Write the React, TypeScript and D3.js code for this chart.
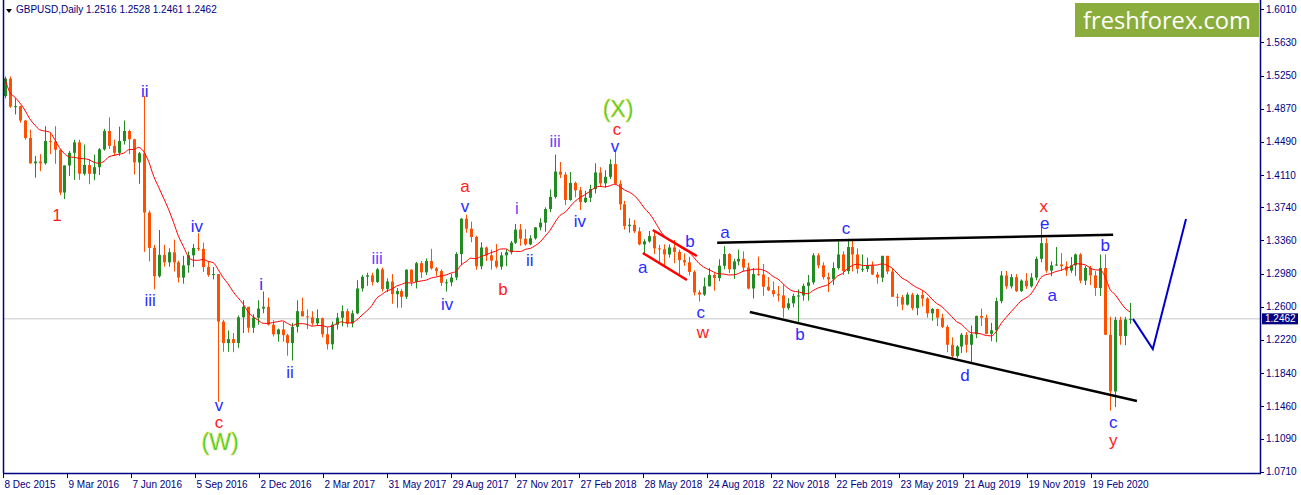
import React from "react";
import * as d3 from "d3";

// ---- data (weekly OHLC, Dec 2015 .. Apr 2020) ----
const firstOpen = 1.5015;
const closes = [
  1.5215,1.4895,1.4900,1.4735,1.4535,1.4245,1.4265,1.4245,1.4500,1.4495,
  1.4400,1.3910,1.4220,1.4365,1.4485,1.4125,1.4225,1.4125,1.4200,1.4405,
  1.4615,1.4445,1.4365,1.4500,1.4615,1.4520,1.4255,1.4360,1.3680,1.3275,
  1.2950,1.3195,1.3110,1.3225,1.3110,1.2935,1.3075,1.3190,1.3275,1.3265,
  1.3055,1.2965,1.2975,1.2430,1.2185,1.2230,1.2185,1.2480,1.2600,1.2360,
  1.2475,1.2580,1.2600,1.2395,1.2285,1.2340,1.2275,1.2185,1.2370,1.2550,
  1.2490,1.2480,1.2410,1.2470,1.2285,1.2170,1.2395,1.2475,1.2550,1.2410,
  1.2525,1.2810,1.2945,1.2960,1.2885,1.3030,1.2805,1.2890,1.2745,1.2780,
  1.2715,1.3025,1.2885,1.3100,1.2995,1.3125,1.3040,1.3010,1.2875,1.2880,
  1.2935,1.3205,1.3610,1.3495,1.3400,1.3065,1.3280,1.3190,1.3130,1.3060,
  1.3190,1.3225,1.3335,1.3485,1.3380,1.3315,1.3385,1.3510,1.3565,1.3720,
  1.3860,1.4150,1.4115,1.3825,1.4020,1.3935,1.3800,1.3850,1.3950,1.4140,
  1.4015,1.4090,1.4235,1.4010,1.3775,1.3525,1.3540,1.3465,1.3315,1.3350,
  1.3410,1.3270,1.3260,1.3200,1.3280,1.3230,1.3135,1.3110,1.3000,1.2765,
  1.2740,1.2835,1.2965,1.2930,1.3070,1.3205,1.3030,1.3120,1.3150,1.3050,
  1.2810,1.2975,1.2970,1.2830,1.2790,1.2745,1.2730,1.2585,1.2640,1.2725,
  1.2730,1.2840,1.2880,1.3190,1.3075,1.2940,1.2915,1.3045,1.3200,1.3010,
  1.3285,1.3200,1.3035,1.3035,1.3075,1.2970,1.2935,1.3185,1.3005,1.2715,
  1.2710,1.2625,1.2740,1.2585,1.2735,1.2695,1.2525,1.2575,1.2475,1.2370,
  1.2165,1.2035,1.2145,1.2280,1.2165,1.2285,1.2495,1.2475,1.2290,1.2330,
  1.2665,1.2960,1.2835,1.2940,1.2780,1.2900,1.2835,1.2935,1.3150,1.3330,
  1.3015,1.3075,1.3085,1.3065,1.3015,1.3075,1.3200,1.2900,1.3045,1.2960,
  1.2815,1.3045,1.2280,1.1630,1.2450,1.2265,1.2455,1.2462,
];
const highs = [
  1.5240,1.5240,1.4990,1.4905,1.4740,1.4630,1.4330,1.4350,1.4670,1.4595,
  1.4670,1.4400,1.4220,1.4385,1.4515,1.4515,1.4460,1.4290,1.4345,1.4420,
  1.4640,1.4770,1.4515,1.4665,1.4735,1.4630,1.4525,1.4375,1.5018,1.3705,
  1.3310,1.3480,1.3310,1.3270,1.3370,1.3130,1.3185,1.3235,1.3320,1.3445,
  1.3335,1.3120,1.3055,1.2975,1.2450,1.2330,1.2300,1.2500,1.2675,1.2600,
  1.2515,1.2675,1.2775,1.2705,1.2445,1.2350,1.2430,1.2290,1.2415,1.2675,
  1.2705,1.2570,1.2550,1.2570,1.2475,1.2365,1.2430,1.2530,1.2615,1.2580,
  1.2560,1.2905,1.2965,1.2990,1.2990,1.3045,1.3050,1.2925,1.2975,1.2815,
  1.2805,1.3030,1.3030,1.3115,1.3125,1.3155,1.3265,1.3055,1.3030,1.2915,
  1.2980,1.3225,1.3615,1.3655,1.3575,1.3415,1.3340,1.3290,1.3255,1.3320,
  1.3225,1.3260,1.3355,1.3550,1.3550,1.3490,1.3420,1.3515,1.3615,1.3740,
  1.3945,1.4345,1.4260,1.4145,1.4145,1.4035,1.3975,1.3930,1.4000,1.4245,
  1.4200,1.4165,1.4290,1.4377,1.4050,1.3815,1.3615,1.3595,1.3510,1.3375,
  1.3470,1.3475,1.3310,1.3315,1.3315,1.3365,1.3255,1.3210,1.3175,1.3020,
  1.2790,1.2935,1.3045,1.2985,1.3145,1.3295,1.3215,1.3150,1.3255,1.3235,
  1.3105,1.3045,1.3175,1.3090,1.2940,1.2890,1.2840,1.2855,1.2700,1.2750,
  1.2800,1.2865,1.2965,1.3215,1.3215,1.3110,1.2990,1.3110,1.3350,1.3235,
  1.3380,1.3380,1.3270,1.3200,1.3165,1.3120,1.3000,1.3175,1.3175,1.3040,
  1.2750,1.2735,1.2765,1.2760,1.2750,1.2785,1.2710,1.2585,1.2580,1.2520,
  1.2390,1.2250,1.2160,1.2300,1.2310,1.2385,1.2500,1.2580,1.2510,1.2415,
  1.2705,1.3010,1.3010,1.2975,1.2975,1.2915,1.2985,1.2985,1.3175,1.3515,
  1.3385,1.3120,1.3285,1.3215,1.3120,1.3170,1.3210,1.3215,1.3070,1.3070,
  1.3010,1.3200,1.3200,1.2485,1.2485,1.2485,1.2485,1.2645,
];
const lows = [
  1.4990,1.4880,1.4805,1.4710,1.4515,1.4240,1.4080,1.4155,1.4230,1.4350,
  1.4240,1.3880,1.3835,1.4100,1.4055,1.4055,1.4105,1.4005,1.4050,1.4110,
  1.4390,1.4410,1.4330,1.4330,1.4460,1.4350,1.4115,1.4010,1.3230,1.3120,
  1.2800,1.2935,1.3060,1.3060,1.3005,1.2880,1.2865,1.2990,1.3055,1.3240,
  1.3000,1.2945,1.2915,1.1510,1.2085,1.2085,1.2080,1.2130,1.2300,1.2305,
  1.2300,1.2395,1.2525,1.2385,1.2260,1.2200,1.2200,1.2040,1.1985,1.2305,
  1.2490,1.2345,1.2385,1.2385,1.2250,1.2110,1.2110,1.2340,1.2375,1.2365,
  1.2365,1.2515,1.2775,1.2840,1.2845,1.2875,1.2775,1.2770,1.2635,1.2590,
  1.2590,1.2690,1.2840,1.2810,1.2930,1.2965,1.3025,1.2955,1.2840,1.2775,
  1.2835,1.2905,1.3080,1.3450,1.3340,1.3025,1.3030,1.3125,1.3025,1.3040,
  1.3025,1.3065,1.3200,1.3320,1.3300,1.3300,1.3305,1.3370,1.3475,1.3460,
  1.3685,1.3840,1.4075,1.3765,1.3815,1.3855,1.3710,1.3790,1.3800,1.3900,
  1.3975,1.3965,1.4065,1.4000,1.3710,1.3485,1.3450,1.3445,1.3305,1.3205,
  1.3335,1.3205,1.3100,1.3050,1.3165,1.3100,1.2955,1.3070,1.2960,1.2730,
  1.2660,1.2725,1.2835,1.2785,1.2895,1.3030,1.2985,1.2920,1.3075,1.3005,
  1.2800,1.2695,1.2955,1.2725,1.2780,1.2715,1.2660,1.2475,1.2565,1.2595,
  1.2405,1.2670,1.2670,1.2855,1.3040,1.2915,1.2770,1.2850,1.3025,1.2965,
  1.2975,1.3005,1.2980,1.3000,1.3000,1.2965,1.2865,1.2885,1.2975,1.2715,
  1.2605,1.2560,1.2615,1.2560,1.2505,1.2605,1.2475,1.2440,1.2380,1.2355,
  1.2080,1.2015,1.2015,1.2070,1.2075,1.1960,1.2240,1.2380,1.2285,1.2205,
  1.2195,1.2640,1.2805,1.2810,1.2770,1.2770,1.2805,1.2820,1.2905,1.3110,
  1.2990,1.2950,1.3070,1.3010,1.2955,1.2990,1.2955,1.2870,1.2850,1.2850,
  1.2725,1.2725,1.2275,1.1410,1.1450,1.2165,1.2160,1.2405,
];

const yTickValues = [1.6010,1.5630,1.5250,1.4870,1.4490,1.4110,1.3740,1.3360,1.2980,1.2600,1.2220,1.1840,1.1460,1.1090,1.0710];
const xTickLabels = ["8 Dec 2015","9 Mar 2016","7 Jun 2016","5 Sep 2016","2 Dec 2016","2 Mar 2017","31 May 2017","29 Aug 2017","27 Nov 2017","27 Feb 2018","28 May 2018","24 Aug 2018","22 Nov 2018","22 Feb 2019","23 May 2019","21 Aug 2019","19 Nov 2019","19 Feb 2020"];
const lastPrice = 1.2462;
const titleText = "GBPUSD,Daily  1.2516 1.2528 1.2461 1.2462";

// wave labels: text, week index, price, kind
const waveLabels: [string, number, number, string][] = [
  ["1",10.5,1.3652,"red"],
  ["ii",28.2,1.5073,"blue"],
  ["iii",29.3,1.2678,"blue"],
  ["iv",38.7,1.3515,"blue"],
  ["v",43.2,1.1474,"blue"],
  ["c",43.2,1.1279,"red"],
  ["(W)",43.4,1.1050,"green"],
  ["i",51.7,1.2861,"blue"],
  ["ii",57.5,1.1852,"blue"],
  ["iii",75.1,1.3159,"purple"],
  ["iv",89.2,1.2632,"blue"],
  ["a",92.8,1.3975,"red"],
  ["v",92.8,1.3744,"blue"],
  ["b",100.5,1.2804,"red"],
  ["i",103.3,1.3732,"purple"],
  ["ii",105.9,1.3136,"blue"],
  ["iii",111.0,1.4500,"purple"],
  ["iv",116.0,1.3583,"blue"],
  ["(X)",123.7,1.4867,"green"],
  ["c",123.5,1.4627,"red"],
  ["v",123.1,1.4432,"blue"],
  ["a",128.7,1.3045,"blue"],
  ["b",138.2,1.3354,"blue"],
  ["c",140.4,1.2540,"blue"],
  ["w",140.8,1.2300,"red"],
  ["a",145.3,1.3446,"blue"],
  ["b",160.4,1.2277,"blue"],
  ["c",169.7,1.3492,"blue"],
  ["d",193.7,1.1818,"blue"],
  ["x",209.6,1.3755,"red"],
  ["e",209.8,1.3560,"blue"],
  ["a",211.3,1.2735,"blue"],
  ["b",222.0,1.3308,"blue"],
  ["c",223.6,1.1279,"blue"],
  ["y",223.6,1.1073,"red"],
];

// drawn lines: [week, price] pairs
const upperTrend: [number, number][] = [[143.7,1.3334],[223.6,1.3426]];
const lowerTrend: [number, number][] = [[150.3,1.2540],[228.4,1.1520]];
const channelUpper: [number, number][] = [[130.7,1.3480],[139.6,1.3182]];
const channelLower: [number, number][] = [[128.7,1.3217],[137.6,1.2907]];
const projection: [number, number][] = [[227.6,1.2462],[231.6,1.2116],[238.3,1.3606]];

const W = 1301, H = 495;
const PLOT_L = 4, PLOT_R = 1260, PLOT_B = 473;

const labelStyle: Record<string, { fill: string; size: number }> = {
  red: { fill: "#ff1a1a", size: 17 },
  blue: { fill: "#2a2aff", size: 17 },
  purple: { fill: "#6a3cff", size: 17 },
  green: { fill: "#33cc33", size: 23 },
};

export default function App() {
  const n = closes.length;
  const x = d3.scaleLinear().domain([0, n - 1]).range([5, 1130]);
  const y = d3.scaleLinear().domain([1.071, 1.601]).range([471.7, 9.3]);
  const dayX = d3.scaleLinear().domain([0, 1088]).range([3, 1091]);

  const opens = closes.map((c, i) => (i === 0 ? firstOpen : closes[i - 1]));
  const ma = closes.map((_, i) => d3.mean(closes.slice(Math.max(0, i - 9), i + 1)) as number);
  const maLine = d3.line<number>().x((_, i) => x(i)).y((v) => y(v)).curve(d3.curveMonotoneX)(ma) || "";
  const seg = d3.line<[number, number]>().x((d) => x(d[0])).y((d) => y(d[1]));
  const navy = "#000080";
  const axisFont = "Liberation Sans, Arial, sans-serif";

  return (
    <svg width={W} height={H} style={{ position: "absolute", left: 0, top: 0, background: "#fff" }}
      xmlns="http://www.w3.org/2000/svg">
      <rect x={0} y={0} width={W} height={H} fill="#fff" />
      {/* current price line */}
      <line x1={PLOT_L} x2={PLOT_R} y1={y(lastPrice)} y2={y(lastPrice)} stroke="#c8c8c8" strokeWidth={1} />
      {/* candles */}
      {closes.map((c, i) => {
        const o = opens[i];
        const up = c >= o;
        const col = up ? "#228b22" : "#ff5000";
        const cx = Math.round(x(i));
        const top = y(Math.max(o, c));
        const bot = y(Math.min(o, c));
        return (
          <g key={i}>
            <line x1={cx + 0.5} x2={cx + 0.5} y1={y(highs[i])} y2={y(lows[i])} stroke={col} strokeWidth={1} />
            <rect x={cx - 1} y={top} width={3} height={Math.max(1, bot - top)} fill={col} />
          </g>
        );
      })}
      {/* moving average */}
      <path d={maLine} fill="none" stroke="#ff0000" strokeWidth={1} />
      {/* trend lines */}
      <path d={seg(upperTrend) || ""} stroke="#000" strokeWidth={2.5} fill="none" />
      <path d={seg(lowerTrend) || ""} stroke="#000" strokeWidth={2.5} fill="none" />
      <path d={seg(channelUpper) || ""} stroke="#ff0000" strokeWidth={2.5} fill="none" />
      <path d={seg(channelLower) || ""} stroke="#ff0000" strokeWidth={2.5} fill="none" />
      <path d={seg(projection) || ""} stroke="#0000cc" strokeWidth={2} fill="none" />
      {/* wave labels */}
      {waveLabels.map(([t, wk, p, kind], i) => {
        const st = labelStyle[kind];
        return (
          <text key={i} x={x(wk)} y={y(p)} textAnchor="middle" dominantBaseline="central"
            fontFamily="Liberation Sans, Arial, sans-serif" fontSize={st.size} fill={st.fill}
            stroke={kind === "green" ? "#d8e040" : "none"} strokeWidth={kind === "green" ? 0.6 : 0}>
            {t}
          </text>
        );
      })}
      {/* axes frame */}
      <line x1={PLOT_L - 0.5} x2={PLOT_L - 0.5} y1={0} y2={PLOT_B} stroke={navy} strokeWidth={1.5} />
      <line x1={PLOT_R + 0.5} x2={PLOT_R + 0.5} y1={0} y2={PLOT_B} stroke={navy} strokeWidth={1.5} />
      <line x1={PLOT_L - 1} x2={PLOT_R + 1} y1={PLOT_B + 0.5} y2={PLOT_B + 0.5} stroke={navy} strokeWidth={1.5} />
      {/* y ticks */}
      {yTickValues.map((v, i) => (
        <g key={i}>
          <line x1={PLOT_R} x2={PLOT_R + 4} y1={Math.round(y(v)) + 0.5} y2={Math.round(y(v)) + 0.5} stroke={navy} />
          <text x={PLOT_R + 6} y={y(v)} dominantBaseline="central" fontFamily={axisFont} fontSize={10} fill={navy}>
            {v.toFixed(4)}
          </text>
        </g>
      ))}
      {/* last price tag */}
      <rect x={PLOT_R + 2} y={y(lastPrice) - 5.5} width={36} height={11} fill={navy} />
      <text x={PLOT_R + 5} y={y(lastPrice)} dominantBaseline="central" fontFamily={axisFont} fontSize={10} fill="#fff">
        {lastPrice.toFixed(4)}
      </text>
      {/* x ticks */}
      {xTickLabels.map((lab, i) => {
        const px = Math.round(dayX(i * 64)) + 0.5;
        return (
          <g key={i}>
            <line x1={px} x2={px} y1={PLOT_B} y2={PLOT_B + 5} stroke={navy} />
            <text x={px + 1} y={PLOT_B + 15} fontFamily={axisFont} fontSize={10} fill={navy}>{lab}</text>
          </g>
        );
      })}
      {/* title */}
      <path d="M6,9 L12,9 L9,13 Z" fill="#000" />
      <text x={16} y={13} fontFamily={axisFont} fontSize={10} fill={navy}>{titleText}</text>
      {/* logo */}
      <rect x={1075} y={3} width={184} height={34} fill="#8aad3b" />
      <text x={1083} y={29} fontFamily="Open Sans, sans-serif" fontSize={24} fill="#fff"
        textLength={168} lengthAdjust="spacingAndGlyphs">freshforex.com</text>
    </svg>
  );
}
